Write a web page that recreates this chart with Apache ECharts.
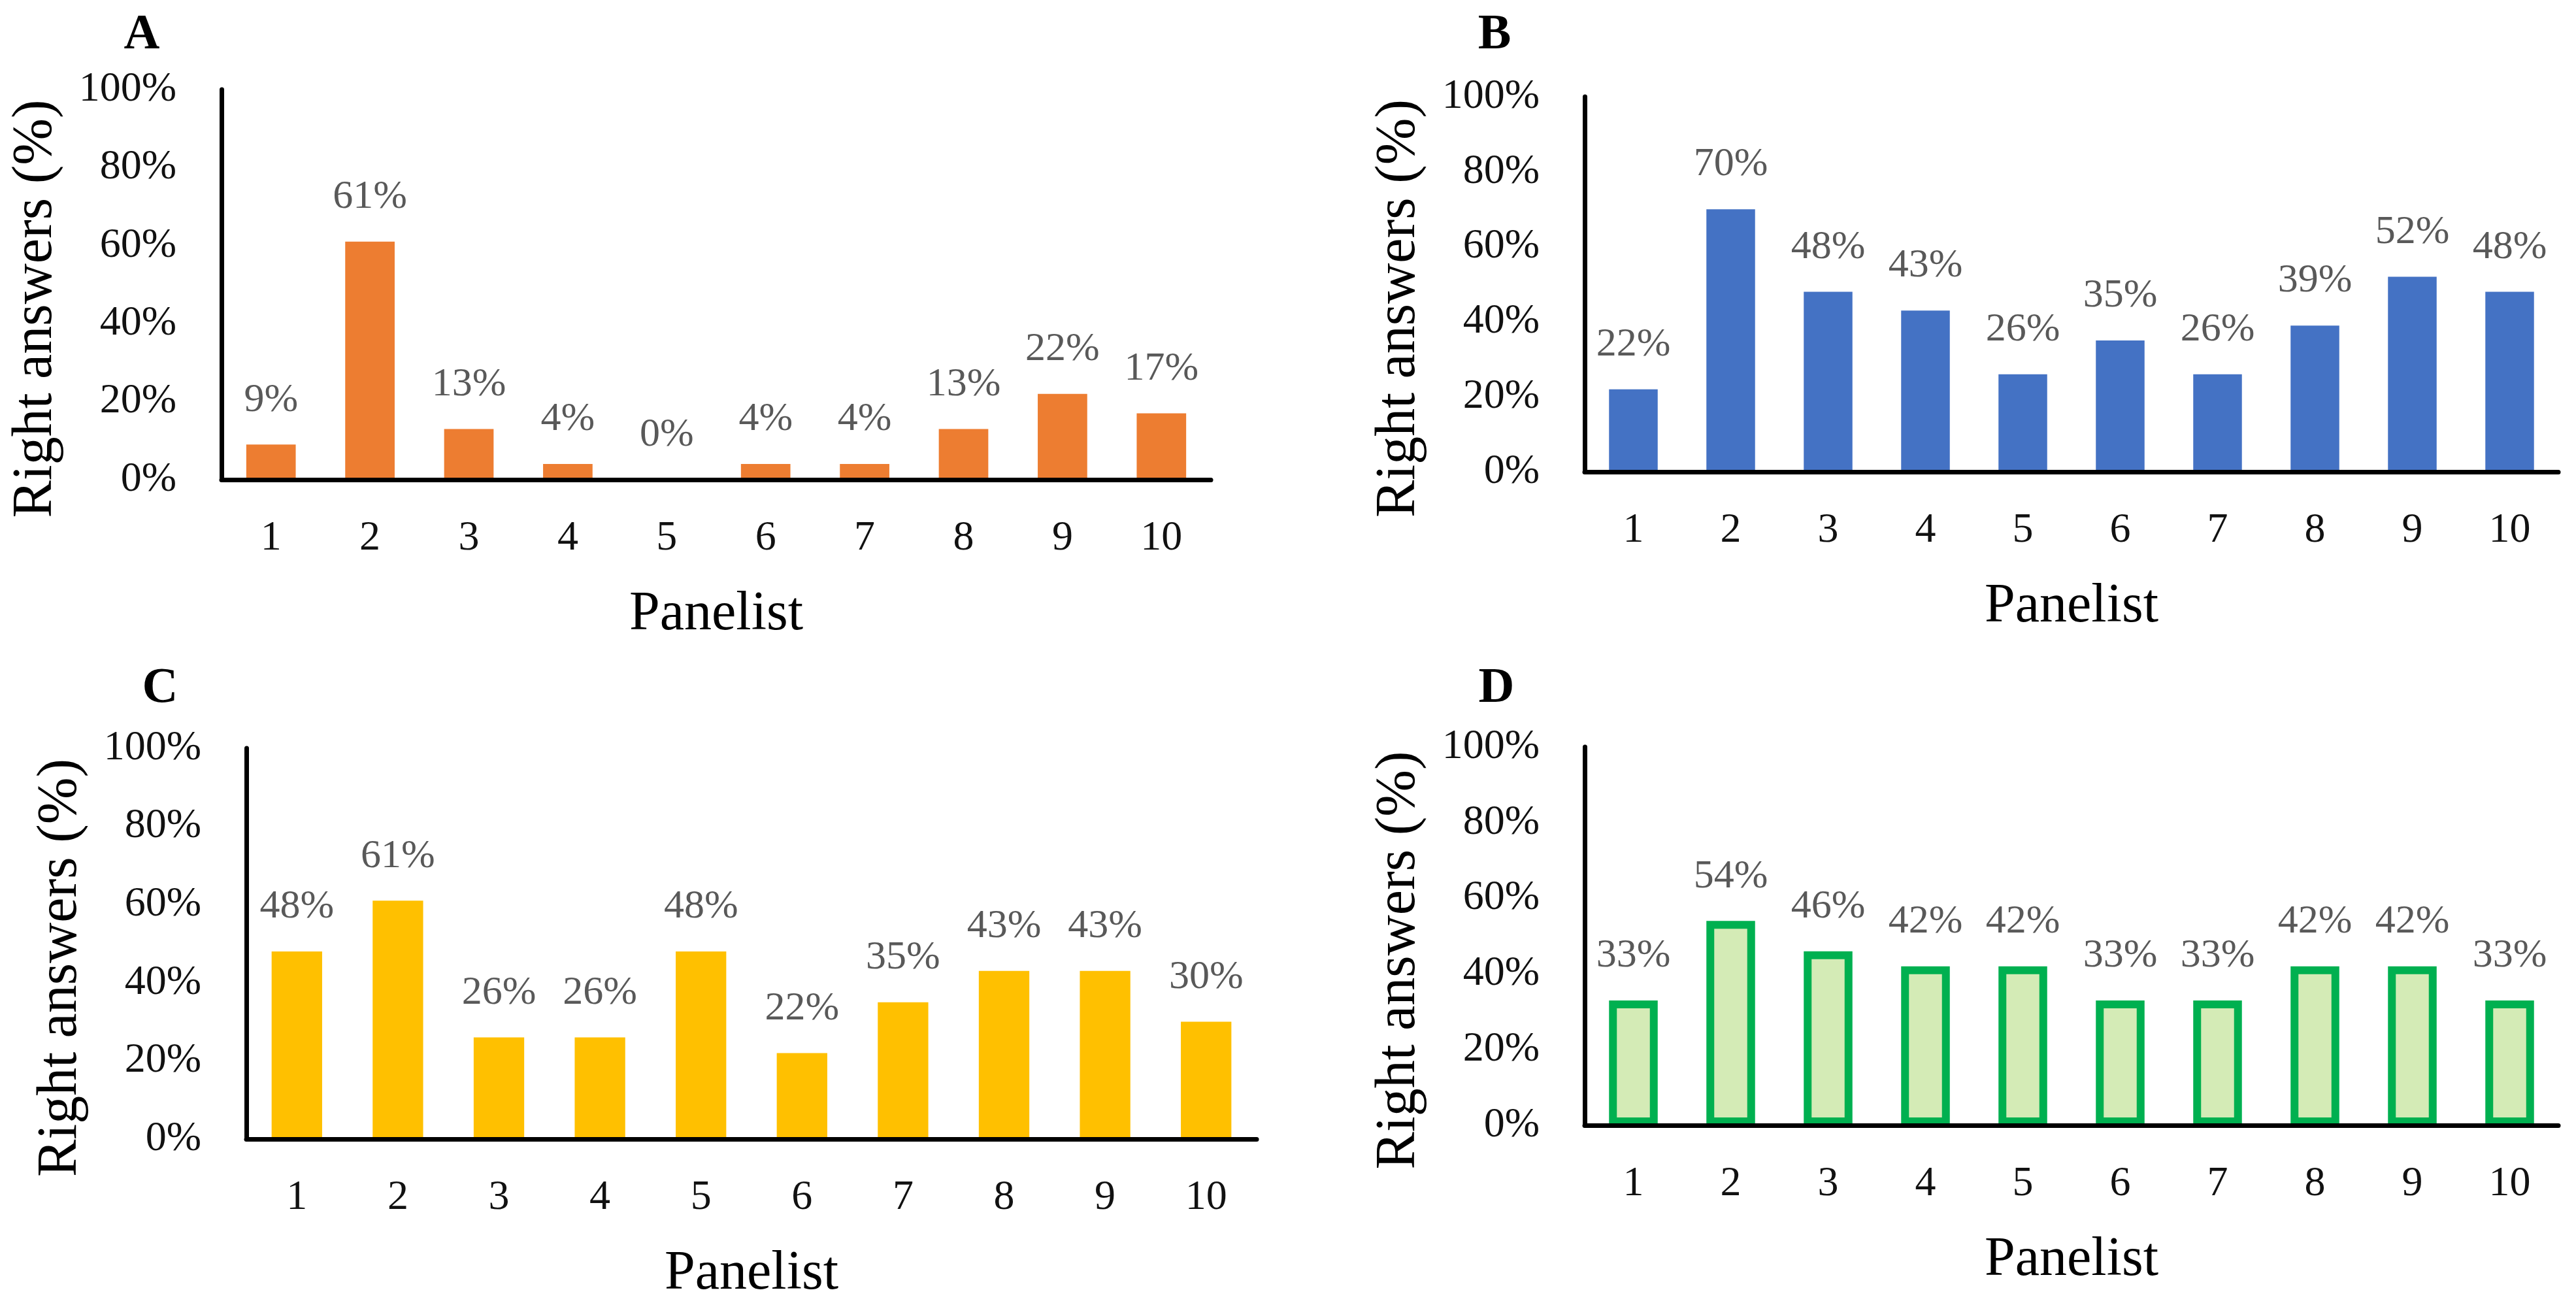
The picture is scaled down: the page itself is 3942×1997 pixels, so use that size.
<!DOCTYPE html>
<html><head><meta charset="utf-8">
<script src="https://cdn.jsdelivr.net/npm/echarts@6/dist/echarts.min.js"></script>
<style>html,body{margin:0;padding:0;background:#fff}#c{width:3942px;height:1997px}</style>
</head><body><div id="c"></div>
<script>
const categories = ['1','2','3','4','5','6','7','8','9','10'];
const valuesA = [9, 61, 13, 4, 0, 4, 4, 13, 22, 17];
const valuesB = [22, 70, 48, 43, 26, 35, 26, 39, 52, 48];
const valuesC = [48, 61, 26, 26, 48, 22, 35, 43, 43, 30];
const valuesD = [33, 54, 46, 42, 42, 33, 33, 42, 42, 33];
const panelLetters = ['A', 'B', 'C', 'D'];
const yAxisTitle = 'Right answers (%)';
const xAxisTitle = 'Panelist';
const yMin = 0, yMax = 100, yStep = 20;

const FONT = "'Liberation Serif', 'Times New Roman', serif";
const grids = [
  {left: 339, top: 137, width: 1514, height: 597},
  {left: 2425, top: 148, width: 1490, height: 574},
  {left: 377, top: 1145, width: 1546, height: 598},
  {left: 2425, top: 1143, width: 1490, height: 579}
];
const letterPos = [[217, 54], [2287, 54], [245, 1054], [2290, 1054]];
const styles = [
  {color: '#ED7D31'},
  {color: '#4472C4'},
  {color: '#FFC000'},
  {color: '#D4EBB6', borderColor: '#00B050', borderWidth: 12}
];
const allValues = [valuesA, valuesB, valuesC, valuesD];

const chart = echarts.init(document.getElementById('c'), null, {renderer: 'canvas'});
const option = {
  backgroundColor: '#ffffff',
  animation: false,
  grid: grids.map(g => Object.assign({containLabel: false}, g)),
  xAxis: grids.map((g, i) => ({
    gridIndex: i, type: 'category', data: categories, z: 10,
    axisLine: {show: true, lineStyle: {color: '#000', width: 7}},
    axisTick: {show: false},
    axisLabel: {margin: 58, fontSize: 64, color: '#111', fontFamily: FONT},
    name: xAxisTitle, nameLocation: 'middle', nameGap: 165,
    nameTextStyle: {fontSize: 84, color: '#000', fontFamily: FONT}
  })),
  yAxis: grids.map((g, i) => ({
    gridIndex: i, type: 'value', min: yMin, max: yMax, interval: yStep, z: 10,
    splitLine: {show: false},
    axisLine: {show: true, lineStyle: {color: '#000', width: 7}},
    axisTick: {show: false},
    axisLabel: {margin: 69, fontSize: 64, color: '#111', fontFamily: FONT, formatter: '{value}%'},
    name: yAxisTitle, nameLocation: 'middle', nameGap: 241,
    nameTextStyle: {fontSize: 86, color: '#000', fontFamily: FONT, padding: [0, 74, 0, 0]}
  })),
  series: allValues.map((vals, i) => ({
    type: 'bar', xAxisIndex: i, yAxisIndex: i, data: vals, barWidth: '50%',
    itemStyle: styles[i],
    label: {show: true, position: 'top', distance: 37, formatter: '{c}%',
            fontSize: 62, color: '#595959', fontFamily: FONT}
  })),
  graphic: panelLetters.map((t, i) => ({
    type: 'text', x: letterPos[i][0], y: letterPos[i][1],
    style: {text: t, font: "bold 76px " + FONT, fill: '#000', align: 'center', verticalAlign: 'middle'}
  }))
};
chart.setOption(option);
</script></body></html>
